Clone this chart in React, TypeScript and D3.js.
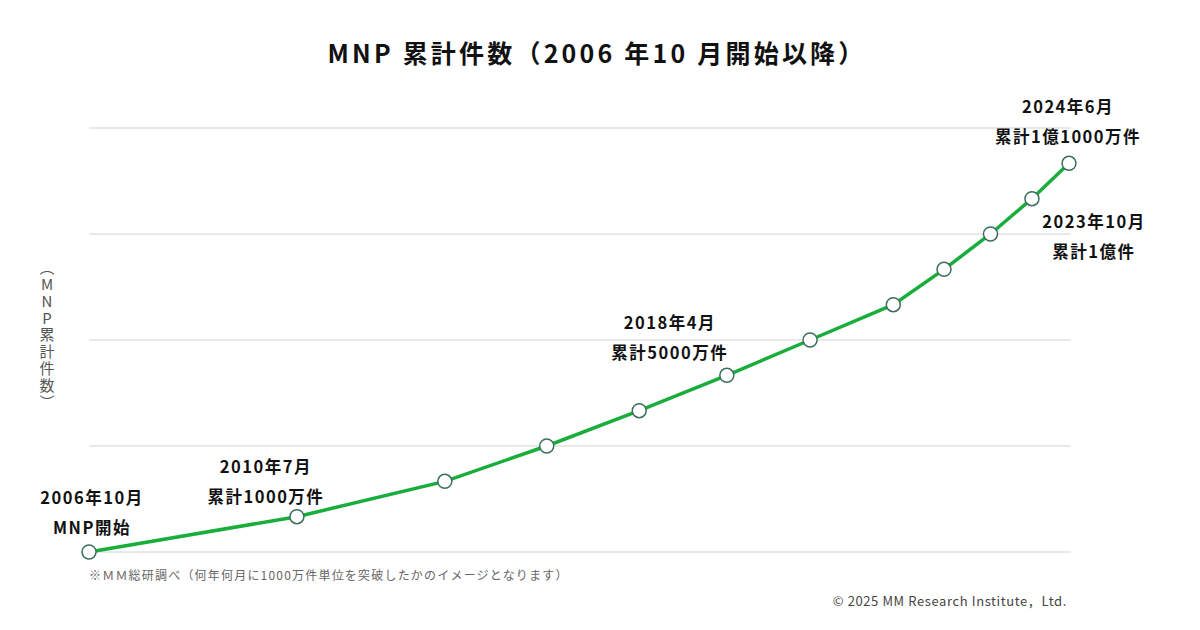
import * as d3 from "d3";

// 1000万件ごとの到達月
const milestoneDates = [
  "2006-10", "2010-07", "2013-03", "2015-01", "2016-09", "2018-04",
  "2019-10", "2021-04", "2022-03", "2023-01", "2023-10", "2024-06",
];
// 累計件数（万件）
const cumulative = [0, 1000, 2000, 3000, 4000, 5000, 6000, 7000, 8000, 9000, 10000, 11000];
const gridValues = [0, 3000, 6000, 9000, 12000];

const annotations = [
  { idx: 0, lines: ["2006年10月", "MNP開始"], dx: 3, dy: -55 },
  { idx: 1, lines: ["2010年7月", "累計1000万件"], dx: -31, dy: -51 },
  { idx: 5, lines: ["2018年4月", "累計5000万件"], dx: -57, dy: -53 },
  { idx: 11, lines: ["2024年6月", "累計1億1000万件"], dx: -1, dy: -57 },
  { idx: 10, lines: ["2023年10月", "累計1億件"], dx: 62, dy: 22 },
];

const yLabel = "（MNP累計件数）";

const W = 1200;
const H = 630;
const FONT = "'Noto Sans CJK JP', 'Noto Sans', sans-serif";

export default function App() {
  const parse = d3.timeParse("%Y-%m");
  const points = milestoneDates.map((d, i) => ({ date: parse(d) as Date, value: cumulative[i] }));

  const x = d3
    .scaleTime()
    .domain([parse("2006-10") as Date, parse("2024-06") as Date])
    .range([89, 1069]);
  const y = d3.scaleLinear().domain([0, 12000]).range([552, 128]);

  const line = d3
    .line<{ date: Date; value: number }>()
    .x((d) => x(d.date))
    .y((d) => y(d.value));

  return (
    <svg
      width={W}
      height={H}
      style={{ position: "absolute", left: 0, top: 0, background: "#fff" }}
      fontFamily={FONT}
    >
      <text
        x={597}
        y={63}
        textAnchor="middle"
        fontSize={25}
        fontWeight={700}
        letterSpacing={3.2}
        fill="#111"
      >
        MNP 累計件数（2006 年10 月開始以降）
      </text>

      {/* grid */}
      {gridValues.map((v) => (
        <line key={v} x1={89} x2={1071} y1={y(v)} y2={y(v)} stroke="#e2e2e2" strokeWidth={1.5} />
      ))}

      {/* y label (vertical) */}
      <text
        x={47}
        y={260}
        fontSize={15}
        letterSpacing={1.8}
        fill="#555"
        style={{ writingMode: "vertical-rl", textOrientation: "upright" }}
      >
        {yLabel}
      </text>

      {/* line */}
      <path d={line(points) ?? ""} fill="none" stroke="#19ad3c" strokeWidth={3.5} />
      {points.map((p, i) => (
        <circle
          key={i}
          cx={x(p.date)}
          cy={y(p.value)}
          r={7}
          fill="#fff"
          stroke="#3c6e5e"
          strokeWidth={1.5}
        />
      ))}

      {/* annotations */}
      {annotations.map((a, i) => {
        const p = points[a.idx];
        const cx = x(p.date) + a.dx;
        const cy = y(p.value) + a.dy;
        return (
          <g key={i}>
            {a.lines.map((t, j) => (
              <text
                key={j}
                x={cx}
                y={cy + j * 30}
                textAnchor="middle"
                dominantBaseline="central"
                fontSize={16.5}
                fontWeight={700}
                letterSpacing={1.5}
                fill="#111"
              >
                {t}
              </text>
            ))}
          </g>
        );
      })}

      <text x={89} y={580} fontSize={12} letterSpacing={1.2} fill="#666">
        ※ＭＭ総研調べ（何年何月に1000万件単位を突破したかのイメージとなります）
      </text>
      <text x={1067} y={606} textAnchor="end" fontSize={13} letterSpacing={0.6} fill="#444">
        © 2025 MM Research Institute，Ltd.
      </text>
    </svg>
  );
}
